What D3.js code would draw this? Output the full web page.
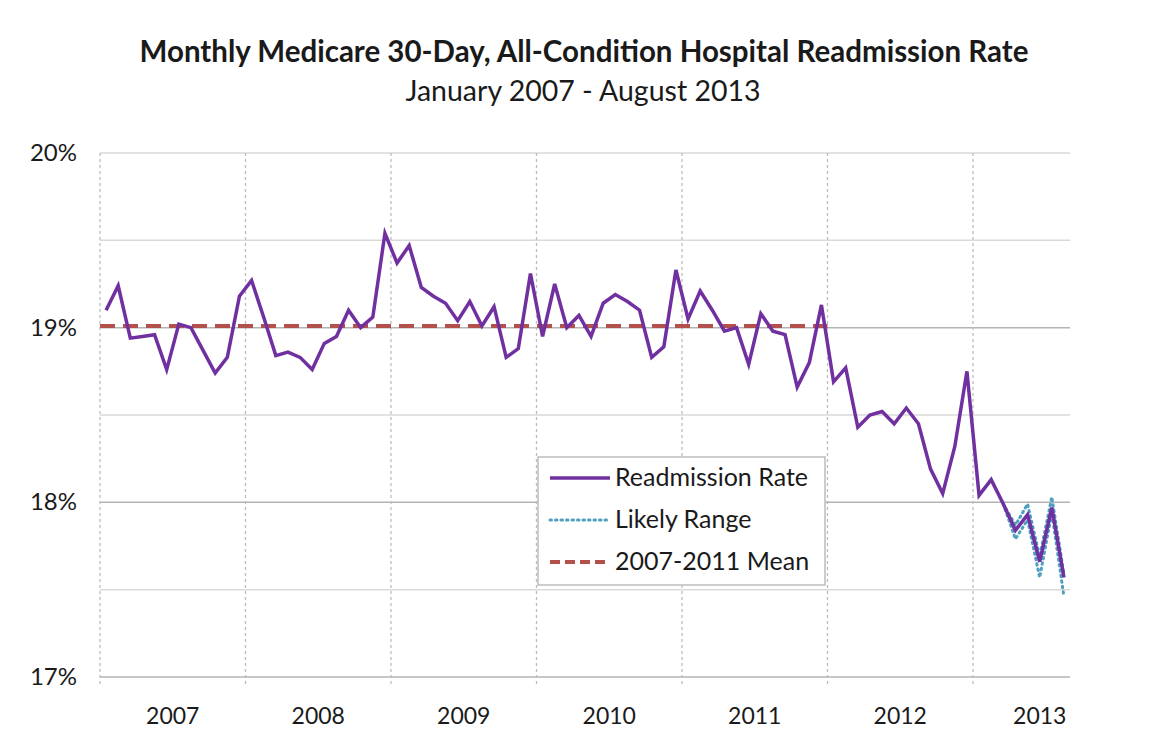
<!DOCTYPE html>
<html>
<head>
<meta charset="utf-8">
<script src="https://cdn.jsdelivr.net/npm/d3@7"></script>
<style>
html,body{margin:0;padding:0;background:#fff;}
svg{display:block;font-family:Lato,"Open Sans",sans-serif;}
</style>
</head>
<body>
<svg id="chart" width="1153" height="738"></svg>
<script>
// ---- data ----
const years = ["2007","2008","2009","2010","2011","2012","2013"];
const yTicks = [17, 18, 19, 20];
const yGrid = [17, 17.5, 18, 18.5, 19, 19.5, 20];
// Monthly readmission rate (%), Jan 2007 - Aug 2013
const rate = [
  19.10,19.24,18.94,18.95,18.96,18.76,19.02,19.00,18.87,18.74,18.83,19.18,
  19.27,19.06,18.84,18.86,18.83,18.76,18.91,18.95,19.10,19.00,19.06,19.54,
  19.37,19.47,19.23,19.18,19.14,19.04,19.15,19.01,19.12,18.83,18.88,19.31,
  18.95,19.25,19.00,19.07,18.95,19.14,19.19,19.15,19.10,18.83,18.89,19.33,
  19.05,19.21,19.10,18.98,19.00,18.79,19.08,18.98,18.96,18.66,18.80,19.13,
  18.69,18.77,18.43,18.50,18.52,18.45,18.54,18.45,18.19,18.05,18.32,18.75,
  18.04,18.13,17.99,17.84,17.93,17.66,17.97,17.57
];
// Likely range for the last months (index 74..79)
const rangeStart = 74;
const rangeUpper = [17.99, 17.87, 17.99, 17.69, 18.03, 17.59];
const rangeLower = [17.99, 17.79, 17.90, 17.57, 17.94, 17.46];
const meanValue = 19.01;
const meanMonths = 60; // 2007-2011
const legendLabels = ["Readmission Rate","Likely Range","2007-2011 Mean"];

// ---- layout ----
const svg = d3.select("#chart");
const L = 100, R = 1070, T = 153, B = 677;
const nMonths = rate.length;
const x = d3.scaleLinear().domain([0, nMonths]).range([L, R]);
const y = d3.scaleLinear().domain([17, 20]).range([B, T]);
const purple = "#7030a0", meanCol = "#b4504b", rangeCol = "#4f9fc0";
const txt = "#1a1a1a";

// title
svg.append("text").attr("x", 584).attr("y", 62).attr("text-anchor","middle")
  .attr("font-size", 29.5).attr("font-weight", "bold").attr("fill",txt)
  .text("Monthly Medicare 30-Day, All-Condition Hospital Readmission Rate");
svg.append("text").attr("x", 583).attr("y", 101).attr("text-anchor","middle")
  .attr("font-size", 28.5).attr("fill",txt)
  .text("January 2007 - August 2013");

// horizontal grid
svg.append("g").selectAll("line").data(yGrid).join("line")
  .attr("x1", L).attr("x2", R)
  .attr("y1", d => y(d)).attr("y2", d => y(d))
  .attr("stroke", d => (d % 1 === 0 && d !== 20) ? "#b3b3b3" : "#d9d9d9")
  .attr("stroke-width", 1.5);

// vertical dotted grid at year starts
const yearStarts = years.map((d,i) => i*12);
svg.append("g").selectAll("line").data(yearStarts).join("line")
  .attr("x1", d => x(d)).attr("x2", d => x(d))
  .attr("y1", T).attr("y2", B + 8)
  .attr("stroke", "#bdbdbd").attr("stroke-width", 1.3)
  .attr("stroke-dasharray", "3,3");

// y labels
svg.append("g").selectAll("text").data(yTicks).join("text")
  .attr("x", 77).attr("y", d => y(d) + 8).attr("text-anchor","end")
  .attr("font-size", 24).attr("fill",txt)
  .text(d => d + "%");

// x labels
svg.append("g").selectAll("text").data(years).join("text")
  .attr("x", (d,i) => x(i*12 + 6) - (i === years.length-1 ? 6 : 0))
  .attr("y", 724).attr("text-anchor","middle")
  .attr("font-size", 23).attr("fill",txt)
  .text(d => d);

// mean line
svg.append("line")
  .attr("x1", x(0)).attr("x2", x(meanMonths))
  .attr("y1", y(meanValue)).attr("y2", y(meanValue))
  .attr("stroke", meanCol).attr("stroke-width", 4)
  .attr("stroke-dasharray", "15,8");

// likely range
const lineGen = d3.line().x(d => x(d.i + 0.5)).y(d => y(d.v));
[rangeUpper, rangeLower].forEach(arr => {
  svg.append("path")
    .datum(arr.map((v,k) => ({i: rangeStart + k, v})))
    .attr("d", lineGen).attr("fill","none")
    .attr("stroke", rangeCol).attr("stroke-width", 3)
    .attr("stroke-dasharray", "1.5,4").attr("stroke-linecap","round");
});

// main line
svg.append("path")
  .datum(rate.map((v,i) => ({i, v})))
  .attr("d", lineGen).attr("fill","none")
  .attr("stroke", purple).attr("stroke-width", 3.5)
  .attr("stroke-linejoin","miter");

// legend
const lg = svg.append("g").attr("transform","translate(538,457)");
lg.append("rect").attr("width", 287).attr("height", 128)
  .attr("fill","#fff").attr("stroke","#bdbdbd").attr("stroke-width",1.5);
const rows = [
  {stroke: purple, dash: null, w: 3.5},
  {stroke: rangeCol, dash: "1.5,4", w: 3},
  {stroke: meanCol, dash: "10,5", w: 4}
];
rows.forEach((r,k) => {
  const yy = 21 + k*42;
  lg.append("line").attr("x1", 12).attr("x2", 72).attr("y1", yy).attr("y2", yy)
    .attr("stroke", r.stroke).attr("stroke-width", r.w)
    .attr("stroke-dasharray", r.dash).attr("stroke-linecap", r.dash && k===1 ? "round" : "butt");
  lg.append("text").attr("x", 77).attr("y", yy + 8)
    .attr("font-size", 25).attr("fill",txt).text(legendLabels[k]);
});
</script>
</body>
</html>
